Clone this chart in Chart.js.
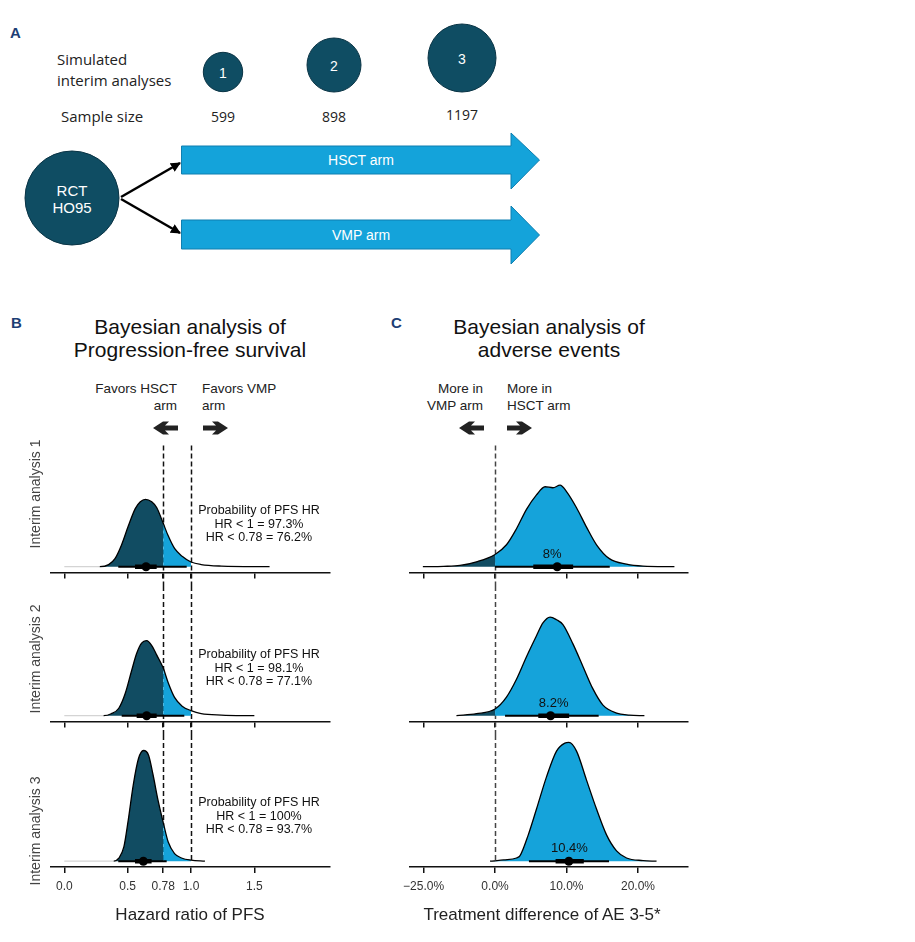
<!DOCTYPE html>
<html>
<head>
<meta charset="utf-8">
<script src="https://cdn.jsdelivr.net/npm/chart.js@4.4.1/dist/chart.umd.min.js"></script>
<style>
  body { margin: 0; background: #fff; }
  #fig { position: relative; width: 915px; height: 942px; overflow: hidden;
         font-family: "Liberation Sans", Arial, sans-serif; color: #111; }
  #fig canvas { position: absolute; }
  .t { position: absolute; white-space: nowrap; line-height: 1; }
  .mid { transform: translate(-50%, -50%); text-align: center; }
  .rgt { transform: translate(-100%, -50%); text-align: right; }
  .lft { transform: translate(0, -50%); }
  .letter { font-weight: bold; font-size: 15px; color: #1d3e74; }
  .title { font-size: 21px; line-height: 23px; color: #111; }
  .note { font-size: 13.5px; line-height: 17px; color: #222; }
  .prob { font-size: 12.5px; line-height: 13.5px; color: #111; text-align: center; transform: translateX(-50%); }
  .ylab { font-size: 14px; color: #444; transform: translate(-50%, -50%) rotate(-90deg); }
  .xlab { font-size: 17px; color: #222; }
</style>
</head>
<body>
<div id="fig">
  <svg width="915" height="942" style="position:absolute;left:0;top:0">
    <defs>
      <marker id="ah" markerWidth="10" markerHeight="10" refX="9" refY="5" orient="auto" markerUnits="userSpaceOnUse">
        <path d="M0,0 L10,5 L0,10 z" fill="#000"/>
      </marker>
    </defs>
    <!-- panel A -->
    <g font-family="Open Sans, sans-serif" font-size="15" fill="#222">
      <text x="57" y="59" dominant-baseline="central">Simulated</text>
      <text x="57" y="80" dominant-baseline="central">interim analyses</text>
      <text x="61" y="116" dominant-baseline="central">Sample size</text>
    </g>
    <g font-family="Open Sans, sans-serif" font-size="14" fill="#222" text-anchor="middle">
      <text x="223" y="116" dominant-baseline="central">599</text>
      <text x="334" y="116" dominant-baseline="central">898</text>
      <text x="462" y="114" dominant-baseline="central">1197</text>
    </g>
    <g fill="#0f4d63" stroke="#0a3445" stroke-width="1">
      <circle cx="223" cy="72" r="19.7"/>
      <circle cx="334" cy="65" r="27"/>
      <circle cx="462" cy="58" r="34"/>
      <circle cx="72" cy="198" r="47"/>
    </g>
    <g font-family="Liberation Sans, Arial, sans-serif" font-size="14" fill="#fff" text-anchor="middle">
      <text x="223" y="73" dominant-baseline="central">1</text>
      <text x="334" y="66" dominant-baseline="central">2</text>
      <text x="462" y="59" dominant-baseline="central">3</text>
    </g>
    <g font-family="Liberation Sans, Arial, sans-serif" font-size="15" fill="#fff" text-anchor="middle">
      <text x="72" y="190" dominant-baseline="central">RCT</text>
      <text x="72" y="207" dominant-baseline="central">HO95</text>
    </g>
    <line x1="121" y1="197" x2="180" y2="163" stroke="#000" stroke-width="2.5" marker-end="url(#ah)"/>
    <line x1="121" y1="199" x2="180" y2="233" stroke="#000" stroke-width="2.5" marker-end="url(#ah)"/>
    <polygon points="181.5,146 511,146 511,133 539.5,160 511,189 511,174 181.5,174" fill="#14a3da" stroke="#0f7fb0" stroke-width="1"/>
    <polygon points="181.5,220 511,220 511,206 539.5,235 511,264 511,249 181.5,249" fill="#14a3da" stroke="#0f7fb0" stroke-width="1"/>
    <g font-family="Liberation Sans, Arial, sans-serif" font-size="14" fill="#fff" text-anchor="middle">
      <text x="361" y="160" dominant-baseline="central">HSCT arm</text>
      <text x="361" y="235" dominant-baseline="central">VMP arm</text>
    </g>
    <!-- direction arrows of panels B and C -->
    <g fill="#222">
      <polygon points="178,425.5 165,425.5 169,421.5 163,421.5 153,428 163,434.5 169,434.5 165,430.5 178,430.5"/>
      <polygon points="203,425.5 216,425.5 212,421.5 218,421.5 228,428 218,434.5 212,434.5 216,430.5 203,430.5"/>
      <polygon points="484,425.5 471,425.5 475,421.5 469,421.5 459,428 469,434.5 475,434.5 471,430.5 484,430.5"/>
      <polygon points="507,425.5 520,425.5 516,421.5 522,421.5 532,428 522,434.5 516,434.5 520,430.5 507,430.5"/>
    </g>
  </svg>

  <canvas id="pfs1" width="329" height="149" style="left:26px;top:437px"></canvas>
  <canvas id="pfs2" width="329" height="149" style="left:26px;top:586px"></canvas>
  <canvas id="pfs3" width="329" height="170" style="left:26px;top:735px"></canvas>
  <canvas id="ae1" width="328" height="149" style="left:385px;top:437px"></canvas>
  <canvas id="ae2" width="328" height="149" style="left:385px;top:586px"></canvas>
  <canvas id="ae3" width="328" height="170" style="left:385px;top:735px"></canvas>

  <div class="t letter lft" style="left:10px;top:32px">A</div>
  <div class="t letter lft" style="left:11px;top:322px">B</div>
  <div class="t letter lft" style="left:391px;top:322px">C</div>

  <div class="t title mid" style="left:190px;top:338px">Bayesian analysis of<br>Progression-free survival</div>
  <div class="t title mid" style="left:549px;top:338px">Bayesian analysis of<br>adverse events</div>

  <div class="t note rgt" style="left:177px;top:397px">Favors HSCT<br>arm</div>
  <div class="t note lft" style="left:202px;top:397px">Favors VMP<br>arm</div>
  <div class="t note rgt" style="left:483px;top:397px">More in<br>VMP arm</div>
  <div class="t note lft" style="left:507px;top:397px">More in<br>HSCT arm</div>

  <div class="t ylab" style="left:35px;top:494px">Interim analysis 1</div>
  <div class="t ylab" style="left:35px;top:659px">Interim analysis 2</div>
  <div class="t ylab" style="left:35px;top:831px">Interim analysis 3</div>

  <div id="prob1" class="t prob" style="left:259px;top:504px"></div>
  <div id="prob2" class="t prob" style="left:259px;top:648px"></div>
  <div id="prob3" class="t prob" style="left:259px;top:796px"></div>

  <div class="t xlab mid" style="left:190px;top:914px">Hazard ratio of PFS</div>
  <div class="t xlab mid" style="left:542px;top:914px">Treatment difference of AE 3-5*</div>
</div>

<script>
// Densités a posteriori (hauteur relative)
const hr1 = [0.0, 0.28, 0.35, 0.40, 0.45, 0.505, 0.56, 0.60, 0.64, 0.69, 0.73, 0.78, 0.82, 0.87, 0.93, 1.0, 1.08, 1.24, 1.62];
const pfsDens1 = [0, 0, 0.10, 0.38, 1.00, 1.91, 2.73, 3.05, 3.17, 3.05, 2.77, 2.05, 1.45, 0.86, 0.49, 0.22, 0.10, 0.03, 0];
const hr2 = [0.0, 0.31, 0.37, 0.43, 0.48, 0.53, 0.57, 0.61, 0.65, 0.69, 0.73, 0.78, 0.82, 0.87, 0.93, 1.0, 1.08, 1.24, 1.5];
const pfsDens2 = [0, 0, 0.09, 0.35, 1.03, 2.09, 2.91, 3.41, 3.53, 3.30, 2.85, 2.25, 1.55, 0.86, 0.45, 0.24, 0.10, 0.03, 0];
const hr3 = [0.0, 0.39, 0.43, 0.47, 0.505, 0.545, 0.585, 0.625, 0.665, 0.70, 0.74, 0.78, 0.82, 0.87, 0.93, 1.0, 1.11];
const pfsDens3 = [0, 0, 0.14, 0.67, 1.95, 3.62, 4.82, 5.21, 4.99, 4.08, 2.86, 1.84, 0.90, 0.36, 0.14, 0.05, 0];

const diff1 = [-10.1, -7.2, -4.9, -2.6, 0, 1.6, 3.0, 4.4, 5.8, 7.0, 8.1, 9.1, 10.0, 11.4, 12.8, 14.2, 16.0, 18.4, 20.7, 25.1];
const aeDens1 = [0, 0.04, 0.15, 0.59, 1.49, 2.67, 4.62, 6.98, 8.74, 9.73, 9.61, 9.92, 9.14, 7.18, 4.82, 2.67, 0.98, 0.32, 0.08, 0];
const diff2 = [-5.4, -2.6, 0, 1.6, 3.0, 4.4, 5.8, 6.7, 7.7, 8.6, 9.5, 10.9, 12.3, 13.7, 15.1, 17.0, 18.8, 20.9];
const aeDens2 = [0, 0.24, 0.82, 2.27, 4.44, 7.18, 9.73, 11.29, 12.0, 11.68, 11.09, 8.74, 6.0, 3.26, 1.29, 0.32, 0.08, 0];
const diff3 = [-0.7, 0, 1.2, 3.0, 3.5, 4.65, 5.8, 7.2, 8.6, 9.77, 10.33, 11.4, 12.8, 14.2, 15.6, 17.0, 18.4, 20.7, 22.6];
const aeDens3 = [0, 0.05, 0.15, 0.39, 0.67, 3.21, 6.35, 10.27, 13.41, 14.39, 14.47, 13.41, 9.88, 6.35, 3.21, 1.26, 0.39, 0.08, 0];

// Intervalles (médiane, 66 %, 95 %)
const pfsMedian = [0.645, 0.65, 0.624];
const pfsInnerLo = [0.558, 0.571, 0.558];
const pfsInnerHi = [0.729, 0.729, 0.689];
const pfsOuterLo = [0.426, 0.453, 0.426];
const pfsOuterHi = [0.966, 0.947, 0.808];

const aeMedian = [8.7, 7.77, 10.33];
const aeInnerLo = [5.35, 6.05, 8.47];
const aeInnerHi = [10.93, 10.37, 12.42];
const aeOuterLo = [0, 1.4, 4.74];
const aeOuterHi = [16.05, 14.5, 15.95];
const aeLabels = ['8%', '8.2%', '10.4%'];
const aeLabelAt = [8, 8.2, 10.4];

// Probabilités affichées
const probHrBelow1 = ['97.3%', '98.1%', '100%'];
const probHrBelow078 = ['76.2%', '77.1%', '93.7%'];

// Graduations
const hrTicks = [0, 0.5, 0.78, 1.0, 1.5];
const hrTickLabels = ['0.0', '0.5', '0.78', '1.0', '1.5'];
const diffTicks = [-10, 0, 10, 20];
const diffTickLabels = ['\u221225.0%', '0.0%', '10.0%', '20.0%'];

const DARK = '#114c62';
const LIGHT = '#15a3da';

Chart.defaults.font.family = '"Liberation Sans", Arial, sans-serif';

// hauteur de la zone de tracé et marge basse de chaque rangée
const rows = [
    { area: 135.5, padBottom: 7.5, first: true, last: false },
    { area: 135.5, padBottom: 7.5, first: false, last: false },
    { area: 132, padBottom: 4.6, first: false, last: true }
];

// lignes pointillées + étiquettes de valeur
const refLines = {
    id: 'refLines',
    beforeDatasetsDraw(chart, args, opts) {
        const { ctx, chartArea, scales: { x } } = chart;
        const top = opts.first ? chartArea.top + 4 : 0;
        const bottom = opts.last ? chartArea.bottom - 4 : chart.height;
        ctx.save();
        ctx.strokeStyle = opts.color;
        ctx.lineWidth = 1.5;
        ctx.setLineDash([5, 3]);
        opts.values.forEach(v => {
            const px = Math.round(x.getPixelForValue(v)) + 0.5;
            ctx.beginPath();
            ctx.moveTo(px, top);
            ctx.lineTo(px, bottom);
            ctx.stroke();
        });
        ctx.restore();
    },
    afterDatasetsDraw(chart, args, opts) {
        if (!opts.label) return;
        const { ctx, scales: { x, y } } = chart;
        ctx.save();
        ctx.font = '13px "Liberation Sans", Arial, sans-serif';
        ctx.fillStyle = '#111';
        ctx.textAlign = 'center';
        ctx.textBaseline = 'middle';
        ctx.fillText(opts.label, x.getPixelForValue(opts.labelAt), y.getPixelForValue(0) - 12.7);
        ctx.restore();
    }
};

function makeRow(id, r, xs, ys, iv, panel) {
    const row = rows[r];
    const pts = xs.map((v, i) => ({ x: v, y: ys[i] }));
    const isPfs = panel === 'pfs';
    const ppu = isPfs ? 22 : 8.5;
    const yMin = -6 / ppu;
    const yMax = (row.area - 6) / ppu;

    const fillColor = ctx => {
        const x0 = ctx.p0.parsed.x;
        if (isPfs) return x0 < 0.779 ? DARK : (x0 < 0.999 ? LIGHT : 'rgba(0,0,0,0)');
        return x0 < -0.001 ? DARK : LIGHT;
    };
    const lineColor = ctx => {
        if (isPfs && ctx.p1.parsed.y === 0 && ctx.p1.parsed.x < iv.med) return '#d4d4d4';
        return '#000';
    };

    return new Chart(document.getElementById(id), {
        type: 'line',
        data: {
            datasets: [
                {
                    data: pts,
                    order: 4,
                    borderColor: '#000',
                    borderWidth: 1.3,
                    pointRadius: 0,
                    cubicInterpolationMode: 'monotone',
                    fill: 'origin',
                    backgroundColor: LIGHT,
                    segment: { backgroundColor: fillColor, borderColor: lineColor }
                },
                {
                    data: [{ x: iv.outLo, y: 0 }, { x: iv.outHi, y: 0 }],
                    order: 3,
                    borderColor: '#000',
                    borderWidth: 2,
                    pointRadius: 0,
                    borderCapStyle: 'butt'
                },
                {
                    data: [{ x: iv.inLo, y: 0 }, { x: iv.inHi, y: 0 }],
                    order: 2,
                    borderColor: '#000',
                    borderWidth: 4.5,
                    pointRadius: 0,
                    borderCapStyle: 'butt'
                },
                {
                    data: [{ x: iv.med, y: 0 }],
                    order: 1,
                    showLine: false,
                    pointRadius: 4.5,
                    pointBackgroundColor: '#000',
                    pointBorderWidth: 0
                }
            ]
        },
        options: {
            responsive: false,
            animation: false,
            events: [],
            layout: { padding: { left: 25, right: 25, top: 0, bottom: row.padBottom } },
            plugins: {
                legend: { display: false },
                tooltip: { enabled: false },
                refLines: {
                    values: isPfs ? [0.78, 1.0] : [0],
                    color: isPfs ? '#111' : '#444',
                    first: row.first,
                    last: row.last,
                    label: isPfs ? null : aeLabels[r],
                    labelAt: isPfs ? null : aeLabelAt[r]
                }
            },
            scales: {
                x: {
                    type: 'linear',
                    min: isPfs ? -0.105 : -11.9,
                    max: isPfs ? 2.097 : 27.0,
                    afterBuildTicks: axis => {
                        axis.ticks = (isPfs ? hrTicks : diffTicks).map(v => ({ value: v }));
                    },
                    ticks: {
                        display: row.last,
                        padding: 6.5,
                        color: '#333',
                        font: { size: 12 },
                        maxRotation: 0,
                        autoSkip: false,
                        callback: (v, i) => (isPfs ? hrTickLabels : diffTickLabels)[i]
                    },
                    grid: {
                        display: true,
                        drawOnChartArea: false,
                        drawTicks: true,
                        tickLength: 6,
                        color: '#111',
                        lineWidth: 1.5
                    },
                    border: { display: true, color: '#111', width: 1.5 }
                },
                y: { display: false, min: yMin, max: yMax }
            }
        },
        plugins: [refLines]
    });
}

const pfsX = [hr1, hr2, hr3];
const pfsY = [pfsDens1, pfsDens2, pfsDens3];
const aeX = [diff1, diff2, diff3];
const aeY = [aeDens1, aeDens2, aeDens3];

for (let r = 0; r < 3; r++) {
    makeRow('pfs' + (r + 1), r, pfsX[r], pfsY[r], {
        med: pfsMedian[r], inLo: pfsInnerLo[r], inHi: pfsInnerHi[r],
        outLo: pfsOuterLo[r], outHi: pfsOuterHi[r]
    }, 'pfs');
    makeRow('ae' + (r + 1), r, aeX[r], aeY[r], {
        med: aeMedian[r], inLo: aeInnerLo[r], inHi: aeInnerHi[r],
        outLo: aeOuterLo[r], outHi: aeOuterHi[r]
    }, 'ae');
    document.getElementById('prob' + (r + 1)).innerHTML =
        'Probability of PFS HR<br>HR &lt; 1 = ' + probHrBelow1[r] + '<br>HR &lt; 0.78 = ' + probHrBelow078[r];
}
</script>
</body>
</html>
